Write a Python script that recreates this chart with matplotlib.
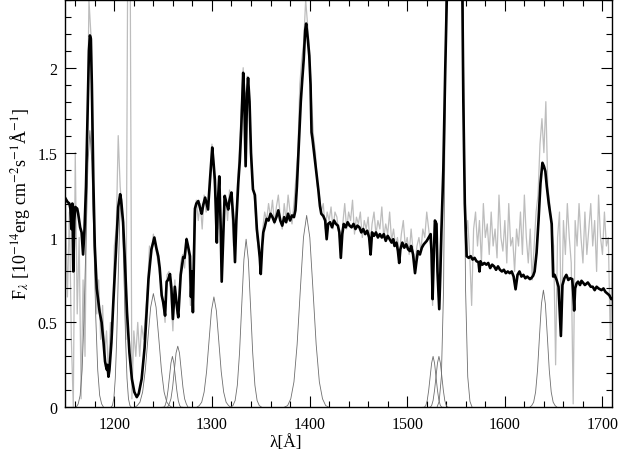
import numpy as np
import matplotlib
matplotlib.use("Agg")
import matplotlib.pyplot as plt
from matplotlib.ticker import MultipleLocator, FixedLocator, FixedFormatter

plt.rcParams['font.family'] = ['Liberation Serif', 'DejaVu Serif']
plt.rcParams['mathtext.fontset'] = 'stix'

# observed spectrum (grey), 2 A sampling starting at 1150 A
obs_start = 1150
obs_step = 2
obs_flux = [
    1.20, 0.65, 1.15, 0.40, 0.00, 1.50, 0.55, 1.00, 0.05, 0.75,
    0.30, 1.40, 2.40, 2.20, 1.20, 0.95, 0.55, 0.75, 0.40, 0.60,
    0.30, 0.45, 0.20, 0.50, 0.40, 0.95, 1.05, 1.60, 1.30, 1.15,
    0.80, 0.40, 3.00, 3.00, 0.05, 0.45, 0.30, 0.50, 0.30, 0.48,
    0.40, 0.55, 0.70, 0.95, 0.90, 1.02, 0.95, 0.88, 0.80, 0.70,
    0.62, 0.50, 0.78, 0.80, 0.65, 0.45, 0.75, 0.55, 0.60, 0.85,
    0.90, 0.82, 1.00, 0.90, 0.60, 0.70, 1.15, 1.22, 1.10, 1.20,
    1.05, 1.25, 1.15, 1.20, 1.30, 1.55, 1.35, 1.20, 1.05, 1.30,
    0.90, 1.15, 1.25, 1.10, 1.28, 1.20, 0.95, 1.05, 1.30, 1.50,
    1.75, 2.00, 1.60, 1.95, 1.85, 1.45, 1.30, 1.20, 1.00, 0.92,
    0.85, 1.05, 1.15, 1.10, 1.20, 1.12, 1.22, 1.08, 1.18, 1.25,
    1.12, 1.05, 1.20, 1.10, 1.25, 1.15, 1.08, 1.20, 1.35, 1.50,
    1.90, 2.05, 2.15, 2.40, 2.25, 2.10, 1.80, 1.60, 1.50, 1.30,
    1.25, 1.15, 1.20, 1.05, 1.15, 1.10, 1.18, 1.05, 1.15, 1.12,
    1.02, 0.95, 1.08, 1.20, 1.05, 1.15, 1.10, 1.22, 1.02, 1.12,
    1.08, 1.15, 1.00, 1.10, 1.05, 1.12, 0.95, 1.08, 1.15, 1.02,
    1.10, 1.05, 1.18, 1.00, 1.08, 1.02, 1.15, 0.98, 1.05, 0.95,
    1.00, 0.90, 1.02, 1.10, 0.95, 1.00, 0.90, 1.05, 0.92, 0.85,
    0.95, 1.00, 0.92, 1.05, 1.00, 1.15, 1.05, 0.95, 0.60, 1.10,
    1.05, 0.65, 0.95, 1.15, 1.60, 2.30, 3.00, 3.00, 3.00, 3.00,
    3.00, 3.00, 3.00, 3.00, 1.50, 1.00, 1.10, 0.90, 0.60, 1.05,
    1.15, 0.95, 1.10, 0.85, 1.20, 1.00, 1.08, 0.90, 1.15, 0.95,
    1.05, 0.88, 1.25, 1.00, 0.92, 1.10, 0.85, 1.20, 0.95, 1.00,
    0.80, 1.05, 0.95, 1.15, 0.90, 1.25, 1.00, 0.85, 1.05, 0.75,
    0.95, 1.15, 1.25, 1.55, 1.70, 1.50, 1.80, 1.30, 1.20, 1.05,
    0.95, 0.25, 1.00, 1.15, 0.45, 1.10, 0.90, 1.20, 1.00, 0.85,
    0.02, 1.10, 0.95, 1.20, 1.00, 0.85, 1.15, 0.90, 1.05, 1.20,
    0.95, 1.10, 0.80, 1.25, 1.00, 0.90, 1.15, 0.95, 1.00, 0.40,
    0.90,
]

# smoothed spectrum (black)
smooth_wave = [
    1150, 1152, 1154, 1155, 1156, 1157, 1158, 1159, 1160, 1162, 1163, 1164,
    1165, 1166.5, 1168, 1169.5, 1171, 1172.5, 1174, 1175, 1176, 1177, 1178.5,
    1180, 1182, 1185, 1187, 1189, 1190.5, 1191.5, 1192.5, 1193, 1194, 1195,
    1197, 1199, 1202, 1204, 1206, 1207, 1209, 1211, 1213, 1215.5, 1218,
    1220.5, 1223, 1225, 1228, 1231, 1235, 1238, 1241, 1243, 1245, 1246.5,
    1248.5, 1250, 1252, 1253.6, 1255, 1257, 1258.5, 1260, 1262, 1264, 1265.5,
    1268, 1270.6, 1272, 1274, 1275.5, 1277.5, 1278.5, 1279.5, 1280.5, 1282.6,
    1284, 1286, 1288, 1289.5, 1291, 1293, 1294.5, 1296, 1298, 1300.3, 1301.5,
    1303, 1305, 1306, 1307.5, 1309, 1310, 1311.5, 1313, 1315, 1316.7, 1318,
    1320, 1322, 1323.6, 1325, 1327, 1328.5, 1330, 1332, 1333, 1334.5, 1336,
    1337, 1338.5, 1340, 1342, 1344, 1346, 1347.5, 1349, 1350, 1351.5, 1352.6,
    1354, 1356, 1358, 1360, 1362, 1364, 1366, 1368, 1370, 1372, 1374, 1376,
    1378, 1380, 1382, 1384, 1385.5, 1387, 1389, 1391, 1392.5, 1394, 1395.5,
    1396.5, 1398, 1399.7, 1401, 1402, 1403, 1405, 1407, 1409, 1410.6, 1412,
    1414, 1416, 1417.5, 1419, 1421, 1423, 1425, 1427, 1429, 1430.5, 1432,
    1433.5, 1435, 1437, 1439, 1441, 1443, 1445, 1447, 1449, 1451, 1453, 1455,
    1457, 1459, 1461, 1462.5, 1464, 1466, 1468, 1470, 1472, 1474, 1476, 1478,
    1480, 1482, 1484, 1485.7, 1487, 1489, 1490.5, 1491.8, 1493, 1495, 1497,
    1499, 1501, 1502.8, 1504, 1506, 1508, 1509.5, 1511, 1513, 1515, 1517,
    1520, 1522, 1524, 1525, 1526, 1527, 1528.4, 1530, 1531, 1532.8, 1534,
    1535, 1537, 1539, 1540.9, 1548, 1556.4, 1557.5, 1559, 1560.9, 1563, 1565,
    1567, 1569, 1571, 1573, 1574, 1575, 1577, 1579, 1581, 1583, 1585, 1587,
    1589, 1591, 1593, 1595, 1597, 1599, 1601, 1603, 1605, 1607, 1609, 1611,
    1613, 1615, 1617, 1619, 1621, 1623, 1625.7, 1627, 1629, 1630.5, 1632.5,
    1634.5, 1636.5, 1638.5, 1640, 1641.5, 1643, 1645, 1647, 1648, 1649.5,
    1651, 1653, 1655, 1657.4, 1659, 1661, 1663, 1665, 1667, 1669, 1670, 1671,
    1672, 1673.5, 1675, 1677, 1678.5, 1680, 1682, 1685, 1688, 1690, 1692,
    1694, 1696, 1699, 1701, 1703, 1705, 1707, 1709, 1710,
]
smooth_flux = [
    1.23, 1.21, 1.20, 1.17, 1.05, 1.20, 0.80, 1.10, 1.18, 1.17, 1.14, 1.10,
    1.06, 1.03, 0.90, 1.05, 1.30, 1.70, 2.10, 2.19, 2.17, 1.90, 1.34,
    0.95, 0.70, 0.56, 0.50, 0.38, 0.27, 0.24, 0.22, 0.25, 0.18, 0.22,
    0.38, 0.62, 0.95, 1.18, 1.255, 1.22, 1.09, 0.84, 0.56, 0.32, 0.167,
    0.09, 0.06, 0.08, 0.167, 0.35, 0.755, 0.93, 1.00, 0.94, 0.89, 0.82,
    0.66, 0.62, 0.54, 0.74, 0.75, 0.785, 0.70, 0.52, 0.71, 0.60, 0.53,
    0.78, 0.885, 0.88, 0.99, 0.95, 0.89, 0.65, 0.80, 0.56, 1.17,
    1.20, 1.215, 1.17, 1.14, 1.19, 1.235, 1.20, 1.165, 1.34, 1.53, 1.45,
    1.34, 0.97, 1.20, 1.36, 1.05, 0.74, 1.00, 1.245, 1.20, 1.165, 1.22,
    1.265, 1.10, 0.855, 1.10, 1.325, 1.45, 1.64, 1.97, 1.85, 1.42, 1.85,
    1.94, 1.80, 1.50, 1.284, 1.25, 1.05, 0.97, 0.88, 0.785, 0.95, 1.03,
    1.06, 1.11, 1.10, 1.14, 1.12, 1.09, 1.12, 1.16, 1.10, 1.07, 1.12, 1.09,
    1.14, 1.10, 1.13, 1.12, 1.16, 1.30, 1.55, 1.80, 1.93, 2.05, 2.22,
    2.26, 2.18, 2.07, 1.90, 1.62, 1.58, 1.48, 1.38, 1.28, 1.186, 1.14,
    1.127, 1.10, 0.99, 1.08, 1.09, 1.06, 1.10, 1.08, 1.07, 1.03, 0.88,
    1.02, 1.08, 1.06, 1.09, 1.07, 1.06, 1.08, 1.05, 1.07, 1.06, 1.03, 1.05,
    1.02, 1.04, 1.00, 0.90, 1.03, 1.01, 1.03, 1.00, 1.02, 1.00, 1.02, 0.98,
    1.01, 0.99, 0.97, 0.99, 0.95, 0.97, 0.92, 0.85, 0.93, 0.97, 0.94,
    0.96, 0.93, 0.92, 0.95, 0.90, 0.79, 0.86, 0.92, 0.90, 0.94, 0.96,
    0.98, 1.00, 1.02, 0.90, 0.637, 0.85, 1.10, 1.08, 0.80, 0.578, 0.80,
    1.03, 1.40, 2.00, 2.50, 5.00, 2.50, 1.80, 1.20, 0.89, 0.88, 0.89,
    0.87, 0.88, 0.86, 0.855, 0.80, 0.86, 0.84, 0.85, 0.84, 0.85, 0.82, 0.84,
    0.83, 0.81, 0.83, 0.81, 0.80, 0.81, 0.79, 0.80, 0.79, 0.80, 0.77, 0.695,
    0.78, 0.80, 0.77, 0.78, 0.76, 0.77, 0.755, 0.76, 0.775, 0.80, 0.91,
    1.10, 1.32, 1.44, 1.42, 1.39, 1.30, 1.20, 1.12, 1.08, 0.77,
    0.78, 0.75, 0.71, 0.42, 0.72, 0.76, 0.78, 0.75, 0.76, 0.755, 0.68, 0.57,
    0.70, 0.73, 0.74, 0.72, 0.745, 0.735, 0.72, 0.735, 0.71, 0.71, 0.69,
    0.71, 0.70, 0.69, 0.70, 0.68, 0.67, 0.66, 0.637, 0.64,
]

# fitted emission line components
comp_wave = [
    [1161, 1163, 1165, 1167, 1169, 1171, 1173, 1175, 1177, 1179, 1181, 1183, 1185, 1187, 1189],
    [1196.5, 1198, 1199.5, 1201, 1202.5, 1204, 1205.5, 1207, 1208.5, 1210, 1211.5, 1213, 1214.5, 1216, 1217.5],
    [1221, 1223.5, 1226.25, 1229, 1231.75, 1234.5, 1237.25, 1240, 1242.75, 1245.5, 1248.25, 1251, 1253.75, 1256.5, 1259],
    [1249, 1250.5, 1252, 1253.5, 1255, 1256.5, 1258, 1259.5, 1261, 1262.5, 1264, 1265.5, 1267, 1268.5, 1270],
    [1252.5, 1254.5, 1256.25, 1258, 1259.75, 1261.5, 1263.25, 1265, 1266.75, 1268.5, 1270.25, 1272, 1273.75, 1275.5, 1277.5],
    [1284.5, 1287, 1289.5, 1292, 1294.5, 1297, 1299.5, 1302, 1304.5, 1307, 1309.5, 1312, 1314.5, 1317, 1319.5],
    [1319, 1321.5, 1323.75, 1326, 1328.25, 1330.5, 1332.75, 1335, 1337.25, 1339.5, 1341.75, 1344, 1346.25, 1348.5, 1351],
    [1374, 1377.5, 1380.75, 1384, 1387.25, 1390.5, 1393.75, 1397, 1400.25, 1403.5, 1406.75, 1410, 1413.25, 1416.5, 1420],
    [1516, 1517.5, 1519, 1520.5, 1522, 1523.5, 1525, 1526.5, 1528, 1529.5, 1531, 1532.5, 1534, 1535.5, 1537],
    [1522, 1523.5, 1525, 1526.5, 1528, 1529.5, 1531, 1532.5, 1534, 1535.5, 1537, 1538.5, 1540, 1541.5, 1543],
    [1530.5, 1532.75, 1535, 1537.25, 1539.5, 1541.75, 1544, 1546.25, 1548.5, 1550.75, 1553, 1555.25, 1557.5, 1559.75, 1562, 1564.25, 1566.5],
    [1625.5, 1627.5, 1629.5, 1631.5, 1633.5, 1635.5, 1637.5, 1639.5, 1641.5, 1643.5, 1645.5, 1647.5, 1649.5, 1651.5, 1653.5],
]
comp_flux = [
    [0.0, 0.02, 0.07, 0.22, 0.53, 0.99, 1.44, 1.63, 1.44, 0.99, 0.53, 0.22, 0.07, 0.02, 0.0],
    [0.0, 0.01, 0.05, 0.17, 0.41, 0.76, 1.10, 1.25, 1.10, 0.76, 0.41, 0.17, 0.05, 0.01, 0.0],
    [0.0, 0.01, 0.03, 0.09, 0.22, 0.41, 0.59, 0.67, 0.59, 0.41, 0.22, 0.09, 0.03, 0.01, 0.0],
    [0.0, 0.0, 0.01, 0.04, 0.10, 0.18, 0.26, 0.30, 0.26, 0.18, 0.10, 0.04, 0.01, 0.0, 0.0],
    [0.0, 0.0, 0.02, 0.05, 0.12, 0.22, 0.32, 0.36, 0.32, 0.22, 0.12, 0.05, 0.02, 0.0, 0.0],
    [0.0, 0.01, 0.03, 0.09, 0.21, 0.39, 0.57, 0.65, 0.57, 0.39, 0.21, 0.09, 0.03, 0.01, 0.0],
    [0.0, 0.01, 0.04, 0.13, 0.32, 0.60, 0.87, 0.99, 0.87, 0.60, 0.32, 0.13, 0.04, 0.01, 0.0],
    [0.0, 0.01, 0.05, 0.15, 0.37, 0.69, 1.00, 1.13, 1.00, 0.69, 0.37, 0.15, 0.05, 0.01, 0.0],
    [0.0, 0.0, 0.01, 0.04, 0.10, 0.18, 0.26, 0.30, 0.26, 0.18, 0.10, 0.04, 0.01, 0.0, 0.0],
    [0.0, 0.0, 0.01, 0.04, 0.10, 0.18, 0.26, 0.30, 0.26, 0.18, 0.10, 0.04, 0.01, 0.0, 0.0],
    [0.0, 0.035, 0.18, 0.70, 2.16, 5.2, 9.7, 14.1, 16.0, 14.1, 9.7, 5.2, 2.16, 0.70, 0.18, 0.035, 0.0],
    [0.0, 0.01, 0.03, 0.09, 0.22, 0.42, 0.61, 0.69, 0.61, 0.42, 0.22, 0.09, 0.03, 0.01, 0.0],
]

y_ticks = [0, 0.5, 1, 1.5, 2]
y_ticklabels = ['0', '0.5', '1', '1.5', '2']

obs_wave = obs_start + obs_step * np.arange(len(obs_flux))

fig = plt.figure(figsize=(6.22, 4.52), dpi=100)
ax = fig.add_axes([0.1053, 0.0967, 0.879, 0.9015])

ax.plot(obs_wave, obs_flux, color='#bdbdbd', lw=0.9, zorder=1)
for cw, cf in zip(comp_wave, comp_flux):
    ax.plot(cw, cf, color='#6e6e6e', lw=0.6, zorder=2)
ax.plot(smooth_wave, smooth_flux, color='black', lw=1.9, zorder=3)

ax.set_xlim(1150, 1710)
ax.set_ylim(0, 2.4)

ax.xaxis.set_major_locator(MultipleLocator(100))
ax.xaxis.set_minor_locator(MultipleLocator(20))
ax.yaxis.set_major_locator(FixedLocator(y_ticks))
ax.yaxis.set_major_formatter(FixedFormatter(y_ticklabels))
ax.yaxis.set_minor_locator(MultipleLocator(0.1))
ax.tick_params(which='both', direction='in', top=True, right=True, labelsize=11.5, width=0.8)
ax.tick_params(which='major', length=8, pad=6)
ax.tick_params(which='minor', length=4)
for s in ax.spines.values():
    s.set_linewidth(1.0)

ax.set_xlabel('λ[Å]', fontsize=12.5, labelpad=2)
ax.xaxis.set_label_coords(0.402, -0.065)
ax.set_ylabel(r'F$_\lambda$ [10$^{-14}$erg cm$^{-2}$s$^{-1}$Å$^{-1}$]', fontsize=13)

fig.savefig('out.png', dpi=100)
